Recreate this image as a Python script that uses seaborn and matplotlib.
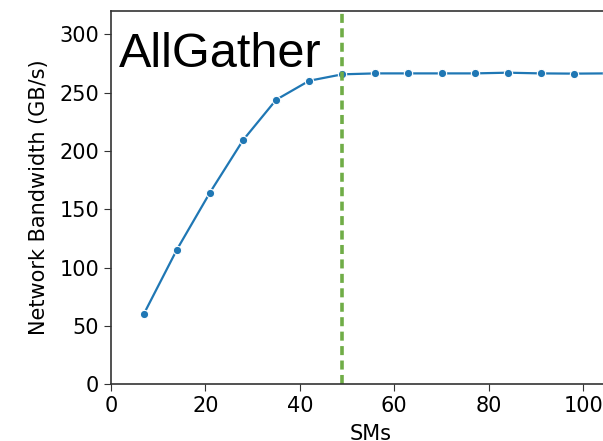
import pandas as pd
import numpy as np
import matplotlib.pyplot as plt
import seaborn as sns

# values
sms = [7, 14, 21, 28, 35, 42, 49, 56, 63, 70, 77, 84, 91, 98, 105]
bandwidth = [60.3, 115.5, 164.4, 209.3, 243.9, 260.2, 265.7, 266.5, 266.5,
             266.5, 266.5, 267.1, 266.5, 266.3, 266.5]
knee_sm = 49
title_text = 'AllGather'

df = pd.DataFrame({'SMs': sms, 'Bandwidth': bandwidth})

sns.set_style('ticks')
plt.rcParams['font.family'] = ['DejaVu Sans']
plt.rcParams['text.color'] = 'black'
plt.rcParams['axes.labelcolor'] = 'black'
plt.rcParams['xtick.color'] = 'black'
plt.rcParams['ytick.color'] = 'black'

fig = plt.figure(figsize=(6.03, 4.41), dpi=100)
ax = fig.add_axes([0.1837, 0.1286, 0.862, 0.8465])

sns.lineplot(data=df, x='SMs', y='Bandwidth', marker='o', color='#1f77b4',
             markersize=6, linewidth=1.6, markeredgecolor='white',
             markeredgewidth=0.8, ax=ax)
ax.axvline(knee_sm, color='#70AD47', linestyle=(0, (2.5, 1.5)), linewidth=2.6)

ax.set_xlim(0, 110)
ax.set_ylim(0, 320)
ax.set_xticks([0, 20, 40, 60, 80, 100])
ax.set_yticks([0, 50, 100, 150, 200, 250, 300])
ax.tick_params(labelsize=15, length=5, color='#333333')
ax.set_xlabel('SMs', fontsize=15, labelpad=6)
ax.set_ylabel('Network Bandwidth (GB/s)', fontsize=15, labelpad=7)
for s in ax.spines.values():
    s.set_color('#333333')
    s.set_linewidth(1.2)

ax.text(0.016, 0.945, title_text, transform=ax.transAxes, fontsize=35,
        family='Liberation Sans', va='top', ha='left', color='black')

fig.savefig('out.png', dpi=100)
